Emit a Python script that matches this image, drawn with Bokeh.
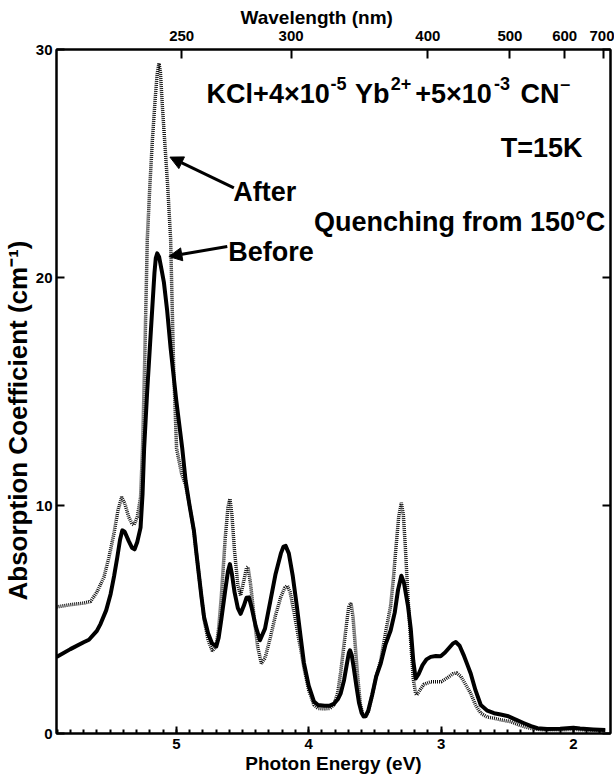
from bokeh.plotting import figure
from bokeh.models import (Range1d, LinearAxis, FixedTicker, SingleIntervalTicker,
                          CustomJSTickFormatter, Label, Arrow, NormalHead, Title)
from bokeh.embed import file_html
from bokeh.resources import INLINE

# ---------------- data ----------------
energy_before = [5.905, 5.80, 5.70, 5.66, 5.60, 5.572, 5.53, 5.496, 5.47, 5.446, 5.425, 5.408,
                 5.39, 5.36, 5.335, 5.315, 5.295, 5.27, 5.255, 5.243, 5.22, 5.20, 5.18, 5.165,
                 5.155, 5.144, 5.13, 5.11, 5.094, 5.07, 5.043, 5.00, 4.955, 4.93, 4.90, 4.867,
                 4.85, 4.83, 4.81, 4.79, 4.76, 4.73, 4.698, 4.68, 4.66, 4.63, 4.61, 4.595,
                 4.58, 4.56, 4.535, 4.514, 4.49, 4.47, 4.451, 4.43, 4.40, 4.368, 4.33, 4.29,
                 4.25, 4.21, 4.19, 4.174, 4.15, 4.12, 4.09, 4.06, 4.036, 4.00, 3.96, 3.93,
                 3.88, 3.84, 3.81, 3.78, 3.758, 3.733, 3.71, 3.696, 3.688, 3.675, 3.66, 3.64,
                 3.62, 3.60, 3.585, 3.569, 3.55, 3.52, 3.49, 3.456, 3.42, 3.381, 3.35, 3.325,
                 3.30, 3.28, 3.25, 3.229, 3.21, 3.192, 3.17, 3.14, 3.11, 3.078, 3.04, 3.003,
                 2.97, 2.94, 2.91, 2.889, 2.86, 2.83, 2.80, 2.776, 2.74, 2.70, 2.65, 2.60,
                 2.55, 2.499, 2.44, 2.373, 2.32, 2.272, 2.20, 2.10, 2.00, 1.95, 1.85, 1.76]
absorption_before = [3.35, 3.70, 4.00, 4.11, 4.50, 4.81, 5.40, 6.12, 6.90, 7.72, 8.50, 8.91,
                     8.85, 8.45, 8.15, 8.08, 8.40, 9.03, 10.5, 12.5, 15.0, 16.9, 18.8, 20.2,
                     20.85, 21.06, 20.9, 20.3, 19.8, 18.6, 16.9, 14.6, 12.5, 11.1, 10.0, 8.9,
                     8.0, 7.0, 6.0, 5.1, 4.4, 3.95, 3.82, 4.2, 5.0, 6.3, 7.1, 7.43,
                     7.0, 6.2, 5.5, 5.25, 5.6, 5.95, 5.97, 5.5, 4.7, 4.09, 4.6, 5.8,
                     7.0, 7.9, 8.2, 8.23, 7.9, 6.9, 5.6, 4.2, 3.1, 2.1, 1.40, 1.25,
                     1.22, 1.22, 1.30, 1.50, 1.76, 2.34, 3.1, 3.55, 3.65, 3.45, 2.9, 2.1,
                     1.35, 0.90, 0.75, 0.77, 1.0, 1.7, 2.5, 3.07, 3.9, 4.52, 5.3, 6.3,
                     6.92, 6.6, 5.6, 4.6, 3.2, 2.41, 2.6, 3.0, 3.25, 3.36, 3.40, 3.39,
                     3.55, 3.75, 3.95, 4.01, 3.85, 3.45, 3.0, 2.63, 1.90, 1.25, 1.00, 0.89,
                     0.83, 0.77, 0.62, 0.45, 0.32, 0.23, 0.20, 0.21, 0.25, 0.22, 0.18, 0.15]

energy_after = [5.905, 5.80, 5.70, 5.648, 5.60, 5.547, 5.51, 5.472, 5.44, 5.413, 5.39, 5.36,
                5.335, 5.32, 5.295, 5.27, 5.255, 5.24, 5.219, 5.20, 5.181, 5.16, 5.145, 5.131,
                5.12, 5.105, 5.088, 5.065, 5.043, 5.02, 4.998, 4.96, 4.93, 4.90, 4.867, 4.85,
                4.83, 4.81, 4.79, 4.76, 4.728, 4.70, 4.68, 4.66, 4.63, 4.61, 4.595, 4.58,
                4.56, 4.535, 4.514, 4.49, 4.47, 4.459, 4.44, 4.41, 4.385, 4.358, 4.33, 4.29,
                4.25, 4.21, 4.18, 4.161, 4.14, 4.11, 4.08, 4.06, 4.036, 4.00, 3.96, 3.93,
                3.88, 3.84, 3.81, 3.78, 3.758, 3.733, 3.71, 3.696, 3.680, 3.665, 3.65, 3.63,
                3.61, 3.59, 3.569, 3.55, 3.52, 3.49, 3.456, 3.42, 3.381, 3.36, 3.34, 3.32,
                3.30, 3.285, 3.27, 3.25, 3.229, 3.21, 3.192, 3.184, 3.16, 3.13, 3.078, 3.00,
                2.95, 2.91, 2.882, 2.85, 2.81, 2.776, 2.74, 2.70, 2.65, 2.60, 2.55, 2.474,
                2.40, 2.33, 2.25, 2.10, 2.00, 1.90, 1.76]
absorption_after = [5.55, 5.65, 5.72, 5.79, 6.2, 6.85, 7.7, 8.74, 9.8, 10.37, 10.1, 9.5,
                    9.2, 9.14, 9.5, 10.34, 12.5, 16.0, 21.7, 24.0, 26.0, 27.8, 28.9, 29.4,
                    29.0, 27.5, 26.0, 24.0, 21.7, 16.0, 12.5, 11.4, 10.9, 10.0, 8.9, 8.0,
                    7.0, 6.0, 5.0, 4.1, 3.62, 3.8, 4.6, 6.0, 8.6, 9.9, 10.3, 9.6,
                    8.0, 6.5, 6.05, 6.7, 7.25, 7.31, 6.6, 5.0, 3.8, 3.07, 3.3, 4.2,
                    5.2, 6.0, 6.4, 6.48, 6.2, 5.3, 4.3, 3.7, 2.9, 1.9, 1.25, 1.10,
                    1.08, 1.10, 1.25, 1.8, 2.7, 3.9, 5.0, 5.6, 5.71, 5.1, 4.0, 2.5,
                    1.3, 0.8, 0.72, 0.95, 1.7, 2.5, 3.2, 4.4, 5.6, 6.8, 8.2, 9.5,
                    10.12, 9.6, 8.2, 6.0, 4.0, 2.4, 1.75, 1.69, 1.9, 2.15, 2.27, 2.27,
                    2.45, 2.62, 2.66, 2.5, 2.1, 1.76, 1.25, 0.89, 0.72, 0.67, 0.60, 0.52,
                    0.35, 0.23, 0.17, 0.16, 0.18, 0.15, 0.13]

energy_ticks = [2, 3, 4, 5]
wavelength_ticks_nm = [250, 300, 400, 500, 600, 700]
absorption_ticks = [0, 10, 20, 30]
HC_EV_NM = 1239.84

FONT = "Liberation Sans"

p = figure(width=614, height=776, output_backend="svg", toolbar_location=None,
           x_range=Range1d(5.905, 1.72), y_range=Range1d(0, 30),
           x_axis_location=None, y_axis_location=None,
           min_border_left=56, min_border_right=4, min_border_top=49, min_border_bottom=39,
           background_fill_color="white", border_fill_color="white")
p.grid.visible = False
p.outline_line_color = "black"
p.outline_line_width = 2


def style_axis(ax, tick_in):
    ax.axis_line_width = 2
    ax.axis_line_color = "black"
    ax.major_tick_in = tick_in
    ax.major_tick_out = 0
    ax.major_tick_line_width = 2
    ax.minor_tick_in = 4
    ax.minor_tick_out = 0
    ax.minor_tick_line_width = 2
    ax.minor_tick_line_color = "black"
    ax.major_label_text_font = FONT
    ax.major_label_text_font_style = "bold"
    ax.major_label_text_font_size = "15px"
    ax.major_label_text_color = "black"
    ax.axis_label_text_font = FONT
    ax.axis_label_text_font_style = "bold"
    ax.axis_label_text_font_size = "19px"
    ax.axis_label_text_color = "black"


xb = LinearAxis(ticker=SingleIntervalTicker(interval=1, num_minor_ticks=10),
                axis_label="Photon Energy (eV)")
style_axis(xb, 7)
xb.major_label_standoff = 5
xb.axis_label_standoff = 1
p.add_layout(xb, "below")

xt = LinearAxis(ticker=FixedTicker(ticks=[HC_EV_NM / w for w in wavelength_ticks_nm], minor_ticks=[]),
                formatter=CustomJSTickFormatter(code="return Math.round(%f / tick).toString();" % HC_EV_NM))
style_axis(xt, 9)
xt.major_label_standoff = 9
p.add_layout(xt, "above")
p.add_layout(Title(text="Wavelength (nm)", align="left", offset=184, standoff=0,
                   text_font=FONT, text_font_style="bold", text_font_size="19px",
                   text_color="black"), "above")

yl = LinearAxis(ticker=FixedTicker(ticks=absorption_ticks, minor_ticks=[]))
style_axis(yl, 8)
yl.major_label_standoff = 4
p.add_layout(yl, "left")
p.add_layout(Title(text="Absorption Coefficient (cm\u207b\u00b9)", align="left", offset=133,
                   standoff=0, text_font=FONT, text_font_style="bold", text_font_size="26px",
                   text_color="black"), "left")

yr = LinearAxis(ticker=FixedTicker(ticks=absorption_ticks, minor_ticks=[]),
                formatter=CustomJSTickFormatter(code="return '';"))
style_axis(yr, 8)
yr.major_label_text_font_size = "0px"
yr.major_label_standoff = 0
p.add_layout(yr, "right")

# curves
p.line(energy_after, absorption_after, line_color="#111111", line_width=3.5, line_dash="1 1")
p.line(energy_before, absorption_before, line_color="black", line_width=4, line_join="round")


# annotations
def lab(x, y, text, size="27px"):
    p.add_layout(Label(x=x, y=y, text=text, text_font=FONT, text_font_style="bold",
                       text_font_size=size, text_color="black",
                       text_align="left", text_baseline="alphabetic"))


big, sup = "27px", "18px"
yb, ys = 28.05, 28.50
lab(4.771, yb, "KCl+4\u00d710", big)
lab(3.835, ys, "-5", sup)
lab(3.650, yb, "Yb", big)
lab(3.380, ys, "2+", sup)
lab(3.195, yb, "+5\u00d710", big)
lab(2.600, ys, "-3", sup)
lab(2.400, yb, "CN", big)
lab(2.100, ys, "\u2013", sup)

lab(2.549, 25.70, "T=15K")
lab(4.569, 23.75, "After")
lab(3.960, 22.45, "Quenching from 150\u00b0C")
lab(4.607, 21.12, "Before")

p.add_layout(Arrow(x_start=4.565, y_start=23.93, x_end=5.048, y_end=25.28,
                   line_width=3, line_color="black",
                   end=NormalHead(size=13, fill_color="black", line_color="black", line_width=1)))
p.add_layout(Arrow(x_start=4.615, y_start=21.36, x_end=5.056, y_end=20.92,
                   line_width=3, line_color="black",
                   end=NormalHead(size=13, fill_color="black", line_color="black", line_width=1)))

open("out.html", "w").write(file_html(p, INLINE))
